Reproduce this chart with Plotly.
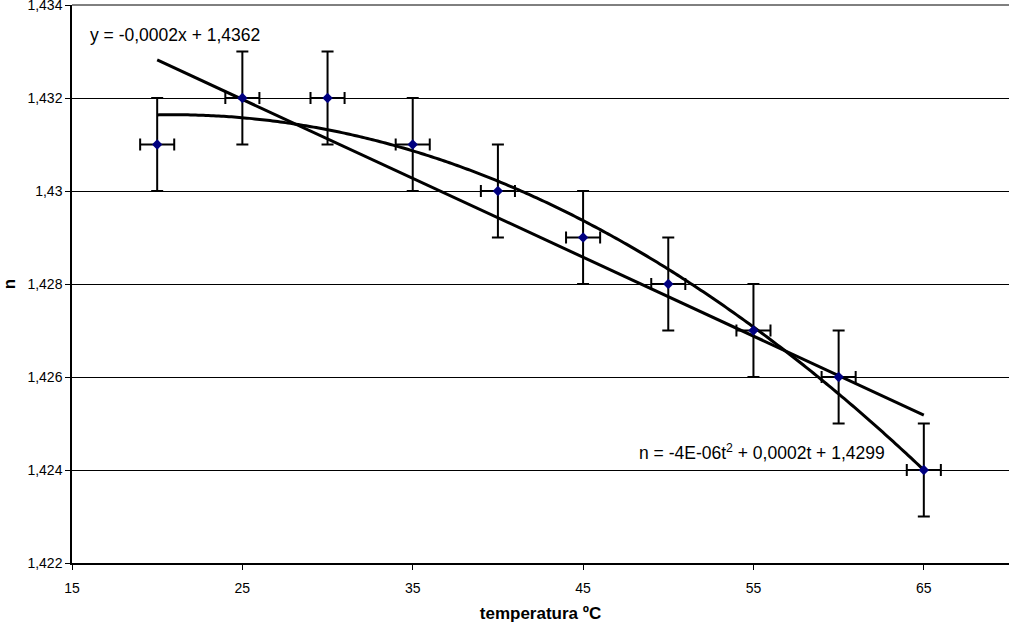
import numpy as np
import plotly.graph_objects as go

temperature = [20, 25, 30, 35, 40, 45, 50, 55, 60, 65]
n_values = [1.431, 1.432, 1.432, 1.431, 1.430, 1.429, 1.428, 1.427, 1.426, 1.424]
x_err = [1] * 10
y_err = [0.001] * 10
y_ticks = [1.422, 1.424, 1.426, 1.428, 1.430, 1.432, 1.434]
y_tick_labels = ["1,422", "1,424", "1,426", "1,428", "1,43", "1,432", "1,434"]
x_ticks = [15, 25, 35, 45, 55, 65]

lin = np.polyfit(temperature, n_values, 1)
quad = np.polyfit(temperature, n_values, 2)
xs = np.linspace(min(temperature), max(temperature), 300)

FONT = "Liberation Sans, Arial, sans-serif"

fig = go.Figure()
fig.add_trace(go.Scatter(x=xs, y=np.polyval(quad, xs), mode="lines",
                         line=dict(color="black", width=3, simplify=False), showlegend=False, hoverinfo="skip"))
fig.add_trace(go.Scatter(x=[xs[0], xs[-1]], y=np.polyval(lin, [xs[0], xs[-1]]), mode="lines",
                         line=dict(color="black", width=3), showlegend=False, hoverinfo="skip"))
fig.add_trace(go.Scatter(
    x=temperature, y=n_values, mode="markers",
    marker=dict(symbol="diamond", size=8, color="#000080"),
    error_y=dict(type="data", array=y_err, color="black", thickness=2, width=6),
    error_x=dict(type="data", array=x_err, color="black", thickness=2, width=6),
    showlegend=False,
))

fig.add_shape(type="line", xref="paper", yref="paper", x0=0, x1=1, y0=1, y1=1,
              line=dict(color="black", width=1), layer="below")

fig.update_layout(
    width=1010, height=629,
    margin=dict(l=72, r=1, t=5, b=66),
    plot_bgcolor="white", paper_bgcolor="white",
    font=dict(family=FONT, size=14, color="black"),
    xaxis=dict(range=[15, 70], tickvals=x_ticks, showgrid=False, zeroline=False,
               showline=True, linecolor="black", linewidth=1.5, automargin=False,
               ticks="outside", ticklen=5, tickcolor="black", ticklabelstandoff=6,
               title=dict(text="<b>temperatura ºC</b>", font=dict(size=17), standoff=13)),
    yaxis=dict(range=[1.4219999, 1.4340001], tickvals=y_ticks, ticktext=y_tick_labels,
               showgrid=True, gridcolor="black", gridwidth=1, zeroline=False,
               showline=True, linecolor="black", linewidth=1.5, automargin=False,
               ticks="outside", ticklen=5, tickcolor="black", ticklabeloverflow="allow",
               title=dict(text="<b>n</b>", font=dict(size=17), standoff=14)),
    annotations=[
        dict(x=15.94, y=1.43335, xref="x", yref="y", xanchor="left", yanchor="middle",
             text="y = -0,0002x + 1,4362", showarrow=False, font=dict(size=17.5)),
        dict(x=48.16, y=1.42439, xref="x", yref="y", xanchor="left", yanchor="middle",
             text="n = -4E-06t<sup>2</sup> + 0,0002t + 1,4299", showarrow=False, font=dict(size=17.5)),
    ],
)

fig.write_html("out.html", config={"displayModeBar": False},
               post_script="document.body.style.margin='0';")
